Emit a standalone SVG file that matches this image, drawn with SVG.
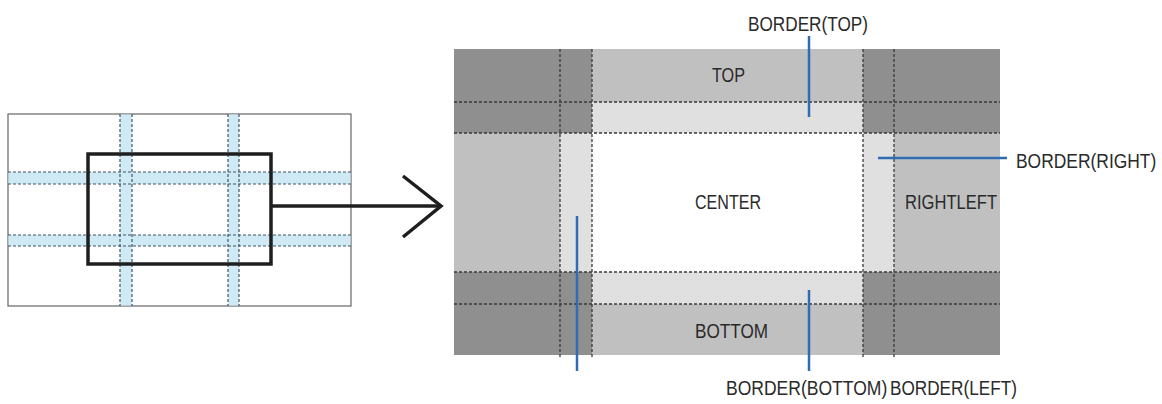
<svg xmlns="http://www.w3.org/2000/svg" width="1162" height="404" viewBox="0 0 1162 404">
<style>
.lbl{font-family:"Liberation Sans",Arial,sans-serif;font-size:21px;fill:#2a2a2a}
.dot{stroke:#3a3a3a;stroke-width:1.3;stroke-dasharray:3 2;fill:none}
.bdot{stroke:#3d5566;stroke-width:1.2;stroke-dasharray:3 2;fill:none}
.band{fill:#cfeaf4}
.dark{fill:#8f8f8f}
.mid{fill:#c0c0c0}
.light{fill:#e0e0e0}
.call{stroke:#2f6cb2;stroke-width:2.5;fill:none}
.thick{stroke:#1e1e1e;stroke-width:3.5;fill:none}
</style>
<rect width="1162" height="404" fill="#ffffff"/>

<g id="source-image">
  <rect x="8" y="114" width="343" height="192" fill="#ffffff" stroke="#666" stroke-width="1.2"/>
  <rect class="band" x="120" y="114.5" width="12" height="191"/>
  <rect class="band" x="228" y="114.5" width="11" height="191"/>
  <rect class="band" x="8.5" y="172" width="342" height="12"/>
  <rect class="band" x="8.5" y="235" width="342" height="11"/>
  <line class="bdot" x1="120" y1="114" x2="120" y2="306"/>
  <line class="bdot" x1="132" y1="114" x2="132" y2="306"/>
  <line class="bdot" x1="228" y1="114" x2="228" y2="306"/>
  <line class="bdot" x1="239" y1="114" x2="239" y2="306"/>
  <line class="bdot" x1="8" y1="172" x2="351" y2="172"/>
  <line class="bdot" x1="8" y1="184" x2="351" y2="184"/>
  <line class="bdot" x1="8" y1="235" x2="351" y2="235"/>
  <line class="bdot" x1="8" y1="246" x2="351" y2="246"/>
  <rect class="thick" x="88" y="154" width="183" height="110"/>
</g>

<g id="nine-slice">
  <rect class="dark" x="454" y="49" width="138" height="84"/>
  <rect class="dark" x="863" y="49" width="137" height="84"/>
  <rect class="dark" x="454" y="272" width="138" height="83"/>
  <rect class="dark" x="863" y="272" width="137" height="83"/>
  <rect class="mid" x="592" y="49" width="271" height="53"/>
  <rect class="light" x="592" y="102" width="271" height="31"/>
  <rect class="mid" x="454" y="133" width="106" height="139"/>
  <rect class="light" x="560" y="133" width="32" height="139"/>
  <rect fill="#ffffff" x="592" y="133" width="271" height="139"/>
  <rect class="light" x="863" y="133" width="31" height="139"/>
  <rect class="mid" x="894" y="133" width="106" height="139"/>
  <rect class="light" x="592" y="272" width="271" height="32"/>
  <rect class="mid" x="592" y="304" width="271" height="51"/>
  <line class="dot" x1="560" y1="49" x2="560" y2="357"/>
  <line class="dot" x1="592" y1="49" x2="592" y2="357"/>
  <line class="dot" x1="863" y1="49" x2="863" y2="357"/>
  <line class="dot" x1="894" y1="49" x2="894" y2="357"/>
  <line class="dot" x1="454" y1="102" x2="1000" y2="102"/>
  <line class="dot" x1="454" y1="133" x2="1000" y2="133"/>
  <line class="dot" x1="454" y1="272" x2="1000" y2="272"/>
  <line class="dot" x1="454" y1="304" x2="1000" y2="304"/>
</g>

<g id="label-top"><text class="lbl" x="728.5" y="82" text-anchor="middle" textLength="33" lengthAdjust="spacingAndGlyphs">TOP</text></g>
<g id="label-center"><text class="lbl" x="728" y="209" text-anchor="middle" textLength="66" lengthAdjust="spacingAndGlyphs">CENTER</text></g>
<g id="label-rightleft"><text class="lbl" x="951" y="209" text-anchor="middle" textLength="92" lengthAdjust="spacingAndGlyphs">RIGHTLEFT</text></g>
<g id="label-bottom"><text class="lbl" x="731.5" y="338" text-anchor="middle" textLength="73" lengthAdjust="spacingAndGlyphs">BOTTOM</text></g>

<g id="callout-border-top"><text class="lbl" x="748" y="31" textLength="120" lengthAdjust="spacingAndGlyphs">BORDER(TOP)</text></g>
<g id="callout-border-right"><text class="lbl" transform="translate(1016,168) scale(0.83,1)" x="0" y="0">BORDER(RIGHT)</text></g>
<g id="callout-border-bottom"><text class="lbl" transform="translate(726,395) scale(0.835,1)" x="0" y="0">BORDER(BOTTOM)</text></g>
<g id="callout-border-left"><text class="lbl" transform="translate(890,395) scale(0.818,1)" x="0" y="0">BORDER(LEFT)</text></g>

<g id="connectors">
  <line class="thick" x1="271" y1="206" x2="440" y2="206"/>
  <polyline class="thick" points="403,176 441,206 403,237"/>
  <line class="call" x1="809" y1="36" x2="809" y2="117"/>
  <line class="call" x1="878" y1="158" x2="1007" y2="158"/>
  <line class="call" x1="577" y1="216" x2="577" y2="371"/>
  <line class="call" x1="809" y1="290" x2="809" y2="371"/>
</g>
</svg>
